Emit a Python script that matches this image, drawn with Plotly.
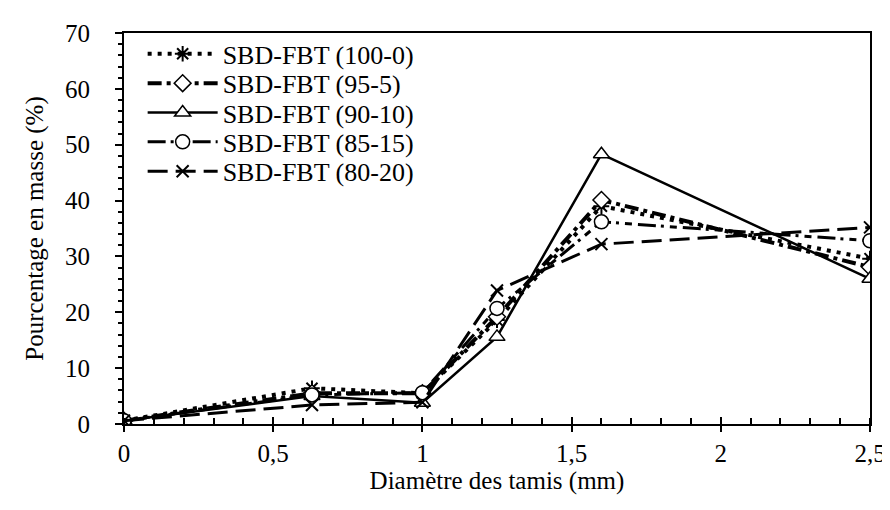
import plotly.graph_objects as go

diametre = [0, 0.63, 1, 1.25, 1.6, 2.5]
series_names = ["SBD-FBT (100-0)", "SBD-FBT (95-5)", "SBD-FBT (90-10)", "SBD-FBT (85-15)", "SBD-FBT (80-20)"]
v_100_0 = [0.6, 6.4, 5.5, 18.6, 39.0, 29.6]
v_95_5 = [0.6, 5.5, 5.5, 19.2, 40.1, 28.1]
v_90_10 = [0.6, 5.0, 3.8, 15.6, 48.3, 26.0]
v_85_15 = [0.6, 5.2, 5.6, 20.7, 36.2, 32.8]
v_80_20 = [0.6, 3.4, 3.9, 23.9, 32.2, 35.2]

values = [v_100_0, v_95_5, v_90_10, v_85_15, v_80_20]
styles = [
    dict(dash="4px,6px", width=4, symbol="asterisk-open", size=13, mcolor="black", lw=2),
    dict(dash="14px,5px,4px,5px", width=4, symbol="diamond", size=13, mcolor="white", lw=1.5),
    dict(dash="solid", width=2.5, symbol="triangle-up", size=14, mcolor="white", lw=1.5),
    dict(dash="18px,5px,3px,6px,7px,6px", width=3, symbol="circle", size=14, mcolor="white", lw=1.5),
    dict(dash="20px,8px", width=3, symbol="x-thin-open", size=12, mcolor="black", lw=2),
]

font = "Liberation Serif, Times New Roman, serif"
t_m, b_m = 23, 94
plot_h = 510 - t_m - b_m
row_px = [44, 73.5, 103, 132.5, 162]
legend_names = ["legend", "legend2", "legend3", "legend4", "legend5"]

fig = go.Figure()
for name, vals, st, lg in zip(series_names, values, styles, legend_names):
    fig.add_trace(go.Scatter(
        x=diametre, y=vals, name=name, mode="lines+markers", legend=lg,
        line=dict(color="black", width=st["width"], dash=st["dash"]),
        marker=dict(symbol=st["symbol"], size=st["size"], color=st["mcolor"],
                    line=dict(color="black", width=st["lw"])),
    ))

# overlay axis to give crossing major ticks on x
fig.add_trace(go.Scatter(x=[0, 2.5], y=[0, 0], xaxis="x2", mode="markers",
                         marker=dict(opacity=0), showlegend=False, hoverinfo="skip"))

legend_layout = {}
for lg, py in zip(legend_names, row_px):
    legend_layout[lg] = dict(
        x=0.025, y=(510 - b_m - py) / plot_h, xanchor="left", yanchor="middle",
        bgcolor="rgba(0,0,0,0)", font=dict(size=26, family=font, color="black"),
        itemwidth=70, borderwidth=0,
    )

fig.update_layout(
    width=890, height=510,
    margin=dict(l=116, r=22, t=t_m, b=b_m),
    plot_bgcolor="white", paper_bgcolor="white",
    separators=", ",
    font=dict(family=font, size=25, color="black"),
    showlegend=True,
    xaxis=dict(range=[0, 2.5], dtick=0.5, tick0=0, showgrid=False, zeroline=False,
               showline=True, linecolor="black", linewidth=2, mirror=True,
               ticks="outside", ticklen=6, tickwidth=1.5, tickcolor="black",
               minor=dict(dtick=0.1, ticks="inside", ticklen=6, tickwidth=1.5, tickcolor="black"),
               title=dict(text="Diamètre des tamis (mm)", font=dict(size=25), standoff=0),
               tickfont=dict(size=25)),
    xaxis2=dict(range=[0, 2.5], dtick=0.5, tick0=0, overlaying="x", side="bottom",
                showgrid=False, zeroline=False, showline=False, showticklabels=False,
                ticks="inside", ticklen=7, tickwidth=1.5, tickcolor="black"),
    yaxis=dict(range=[0, 70], dtick=10, showgrid=False, zeroline=False,
               showline=True, linecolor="black", linewidth=2, mirror=True,
               ticks="outside", ticklen=7, tickwidth=1.5, tickcolor="black",
               ticklabelstandoff=20,
               minor=dict(dtick=2, ticks="outside", ticklen=4, tickwidth=1.5, tickcolor="black"),
               title=dict(text="Pourcentage en masse (%)", font=dict(size=25), standoff=14),
               tickfont=dict(size=25)),
    **legend_layout,
)

fig.write_html("out.html")
